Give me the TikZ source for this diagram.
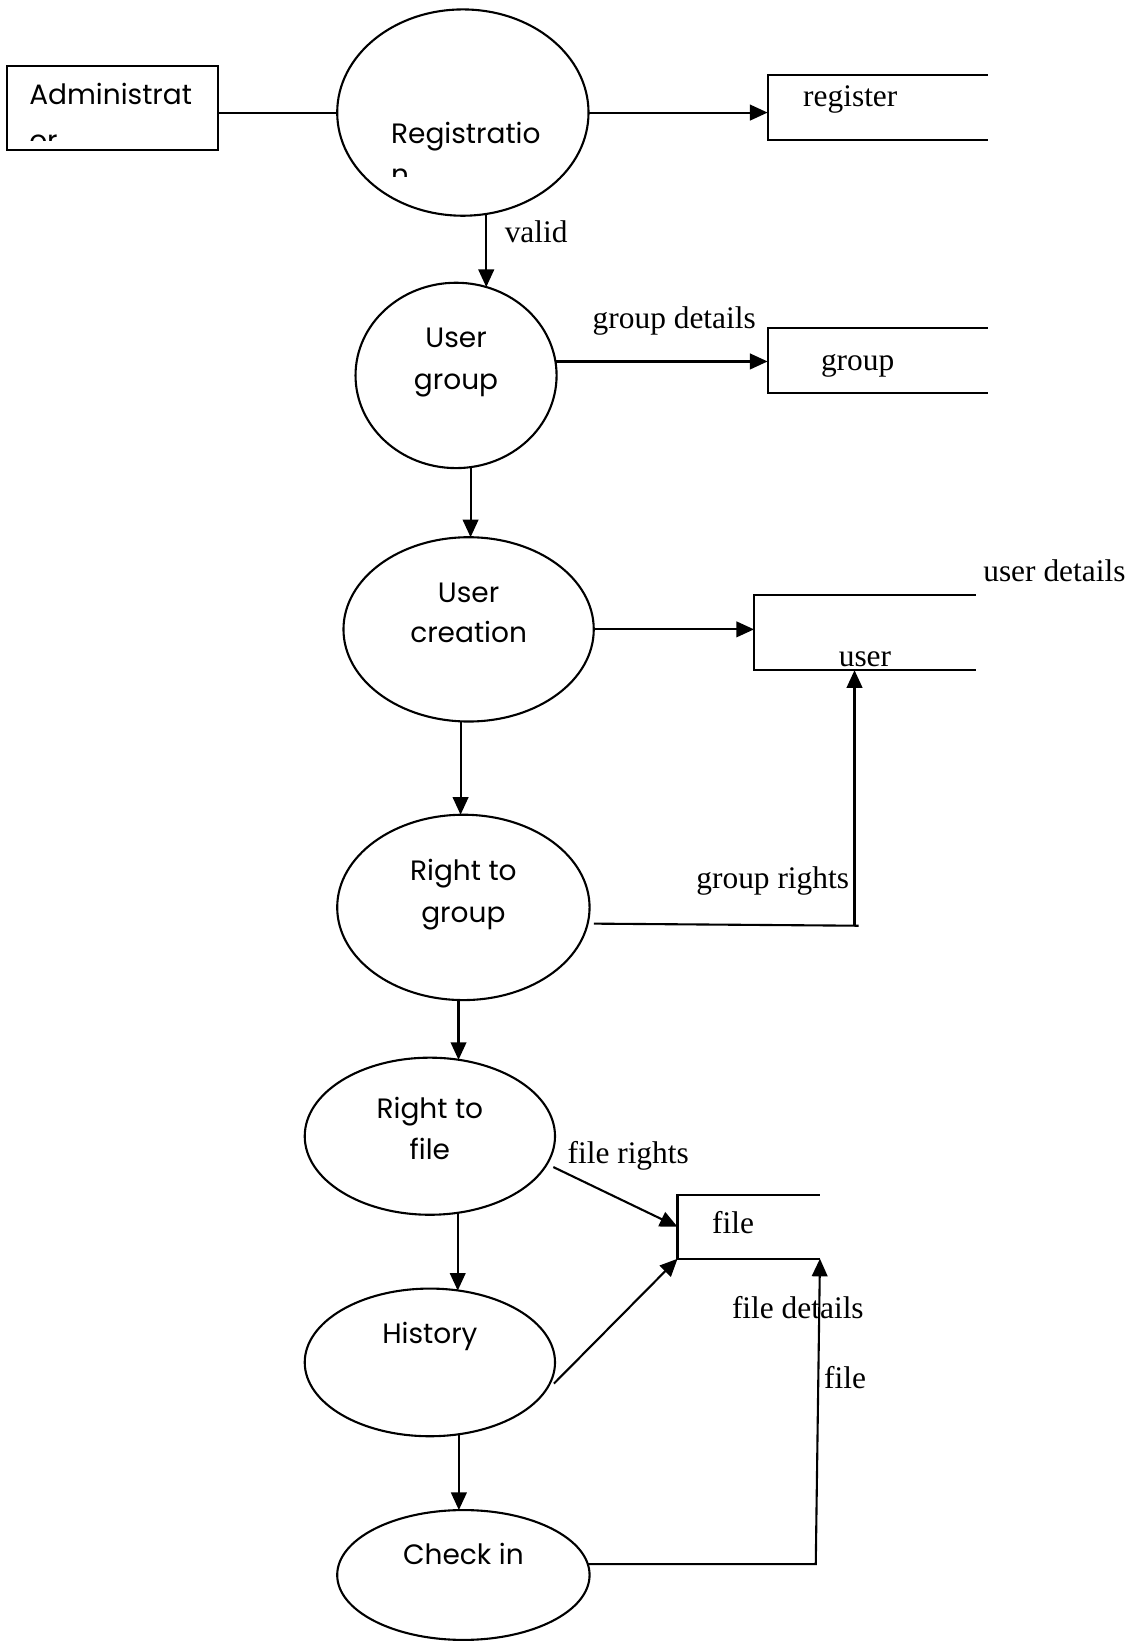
\documentclass[tikz,border=0pt]{standalone}
\usepackage{fontspec}
\setmainfont{Liberation Serif}
\newfontfamily\gothic{Poppins}
\usetikzlibrary{arrows.meta,shapes.geometric,calc}
\def\U{0.5235pt}
\begin{document}
\begin{tikzpicture}[x=0.5235pt,y=-0.5235pt,
  line width=1.05pt,
  proc/.style={draw, ellipse, inner sep=0pt, outer sep=0pt},
  store/.style={inner sep=0pt, outer sep=0pt},
  arr/.style={-{Triangle[length=8.8pt,width=7.8pt]}},
  stext/.style={font=\gothic\fontsize{14}{20.4}\selectfont, inner sep=0pt, anchor=base},
  lbl/.style={font=\fontsize{15.7}{18}\selectfont, inner sep=0pt, anchor=base west}]
\useasboundingbox (0,0) rectangle (1080,1568);

% external entity
\node[draw, minimum width=201*\U, minimum height=80*\U, inner sep=0pt, outer sep=0pt] (admin) at (107.5,103) {};

% processes
\node[proc, minimum width=240*\U, minimum height=197*\U] (reg) at (442,107.5) {};
\node[proc, minimum width=192*\U, minimum height=177*\U] (ug) at (435.5,358.5) {};
\node[proc, minimum width=239*\U, minimum height=176*\U] (uc) at (447.5,601) {};
\node[proc, minimum width=241*\U, minimum height=177*\U] (rg) at (442.5,866.5) {};
\node[proc, minimum width=239*\U, minimum height=150*\U] (rf) at (410.5,1085) {};
\node[proc, minimum width=239*\U, minimum height=141*\U] (hist) at (410.5,1301) {};
\node[proc, minimum width=241*\U, minimum height=124*\U] (ci) at (442.5,1504) {};

% data stores (open rectangles)
\node[store, minimum width=210*\U, minimum height=62*\U] (regstore) at (838,103) {};
\node[store, minimum width=210*\U, minimum height=62*\U] (groupstore) at (838,344) {};
\node[store, minimum width=212*\U, minimum height=72*\U] (userstore) at (826,604) {};
\node[store, minimum width=136*\U, minimum height=61*\U] (filestore) at (715,1171.5) {};
\foreach \s in {regstore,groupstore,userstore,filestore}
  \draw (\s.north east) -- (\s.north west) -- (\s.south west) -- (\s.south east);

% texts inside shapes
\begin{scope}
  \clip (7,63) rectangle (208,134.5);
  \node[stext, anchor=base west] (admint1) at (27,99.5) {Administrat};
  \node[stext, anchor=base west] (admint2) at (27,144) {or};
\end{scope}
\begin{scope}
  \clip (330,110) rectangle (560,169);
  \node[stext, anchor=base west] (regt1) at (372.5,137) {Registratio};
  \node[stext, anchor=base west] (regt2) at (372.5,176) {n};
\end{scope}
\node[stext] (ugt1) at (435.5,332) {User};
\node[stext] (ugt2) at (435.5,372) {group};
\node[stext] (uct1) at (447.5,575) {User};
\node[stext] (uct2) at (447.5,614) {creation};
\node[stext] (rgt1) at (442.5,841) {Right to};
\node[stext] (rgt2) at (442.5,881) {group};
\node[stext] (rft1) at (410.5,1068) {Right to};
\node[stext] (rft2) at (410.5,1107) {file};
\node[stext] (histt) at (410.5,1283) {History};
\node[stext] (cit) at (442.5,1494) {Check in};

% store names and flow labels
\node[lbl] (regname) at (766,101.5) {register};
\node[lbl] (groupname) at (783,354) {group};
\node[lbl] (username) at (800,636.5) {user};
\node[lbl] (filename) at (679,1178) {file};
\node[lbl] (lvalid) at (481,231.5) {valid};
\node[lbl] (lgroupdet) at (565,313.5) {group details};
\node[lbl] (luserdet) at (938,555.5) {user details};
\node[lbl] (lgrouprights) at (664,848.5) {group rights};
\node[lbl] (lfilerights) at (541,1111.5) {file rights};
\node[lbl] (lfiledet) at (698,1259.5) {file details};
\node[lbl] (lfile) at (786,1325.5) {file};

% connectors
\draw (admin.east |- reg.west) -- (reg.west);
\draw[arr] (reg.east) -- (reg.east -| regstore.west);
\draw[arr] (reg.-77.8) -- (reg.-77.8 |- ug.71.7);
\draw[arr] (ug.8) -- (ug.8 -| groupstore.west);
\draw[arr] (ug.-81.9) -- (ug.-81.9 |- uc.north);
\draw[arr] (uc.east) -- (uc.east -| userstore.west);
\draw[arr] (uc.-95) -- (uc.-95 |- rg.north);
\draw ($(rg.east)+(4,15.5)$) -- ($(userstore.south west)+(100,244)$);
\draw[arr] ($(userstore.south west)+(96,244)$) -- ($(userstore.south west)+(96,0)$);
\draw[arr] (rg.-93) -- (rg.-93 |- rf.69.4);
\draw[arr] ($(rf.-15)+(8,0)$) -- (filestore.west);
\draw[arr] (rf.-70.1) -- (rf.-70.1 |- hist.68.8);
\draw[arr] ($(hist.-10.4)+(4,0)$) -- (filestore.south west);
\draw[arr] (hist.-68.8) -- (hist.-68.8 |- ci.north);
\draw[arr] (ci.5.3) -- ($(ci.5.3 -| filestore.south east)+(-4,0)$) -- (filestore.south east);
\end{tikzpicture}
\end{document}
